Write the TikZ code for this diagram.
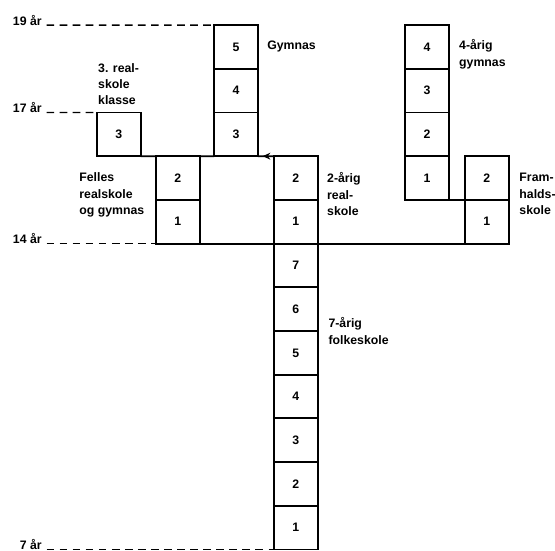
\documentclass[tikz,border=0pt]{standalone}
\usepackage{fontspec}
\setmainfont{Liberation Sans}
\usepackage{tikz}
\usetikzlibrary{arrows.meta, positioning, decorations.markings}

\begin{document}
\begin{tikzpicture}[
    x=1cm, y=1cm,
    >=Stealth,
    every node/.style={font=\fontsize{8}{10.7}\selectfont\bfseries},
    klasse/.style={draw, line width=1.2pt, minimum size=1cm, inner sep=0pt, outer sep=0pt},
    tekst/.style={anchor=west, align=left, inner sep=0pt},
    alder/.style={anchor=base east, inner sep=0pt},
    strek/.style={line width=1.2pt},
    stipla/.style={line width=0.9pt, dash pattern=on 5pt off 3.5pt, shorten <=3pt},
    pil/.style={postaction={decorate}, decoration={markings,
        mark=at position 0.7 with {\arrow{Stealth[length=5pt, width=4.5pt]}}}}
  ]

  \useasboundingbox (0,-0.034) rectangle (12.70,12.574);

  % Folkeskole
  \foreach \k in {1,...,7} {
    \node[klasse] (folk\k) at (6.77, \k-0.5) {\k};
  }

  % Realskole og framhaldsskole
  \foreach \k in {1,2} {
    \node[klasse] (real\k) at (6.77, 6.5+\k) {\k};
    \node[klasse] (felles\k) at (4.07, 6.5+\k) {\k};
    \node[klasse] (fram\k) at (11.14, 6.5+\k) {\k};
  }
  \node[klasse] (r3) at (2.72, 9.5) {3};

  % Gymnas
  \foreach \k in {3,4,5} {
    \node[klasse] (g\k) at (5.40, \k+6.5) {\k};
  }
  \foreach \k in {1,...,4} {
    \node[klasse] (f\k) at (9.77, \k+7.5) {\k};
  }

  % Linjer
  \draw[strek] (r3.south east) -- (felles2.north west);
  \draw[strek] (felles2.north east) -- (g3.south west);
  \draw[strek, pil] (real2.north west) -- (g3.south east);
  \draw[strek] (felles1.south east) -- (real1.south west);
  \draw[strek] (real1.south east) -- (fram1.south west);
  \draw[strek] (f1.south east) -- (fram2.south west);

  % Alder
  \node[alder] (a19) at (0.96, 12) {19 år};
  \node[alder] (a17) at (0.96, 10) {17 år};
  \node[alder] (a14) at (0.96, 7) {14 år};
  \node[alder] (a7) at (0.96, 0) {7 år};
  \draw[stipla] (a19.base east) -- (g5.north west);
  \draw[stipla] (a17.base east) -- (r3.north west);
  \draw[stipla] (a14.base east) -- (felles1.south west);
  \draw[stipla] (a7.base east) -- (folk1.south west);

  % Tekster
  \node[tekst] (l3real) at (2.24, 10.65) {3. real-\\skole\\klasse};
  \node[tekst] (lfelles) at (1.81, 8.11) {Felles\\realskole\\og gymnas};
  \node[tekst] (lgym) at (6.11, 11.5) {Gymnas};
  \node[tekst] (lreal) at (7.48, 8.13) {2-årig\\real-\\skole};
  \node[tekst] (l4gym) at (10.50, 11.33) {4-årig\\gymnas};
  \node[tekst] (lfram) at (11.88, 8.13) {Fram-\\halds-\\skole};
  \node[tekst] (lfolk) at (7.51, 5.0) {7-årig\\folkeskole};

\end{tikzpicture}
\end{document}
